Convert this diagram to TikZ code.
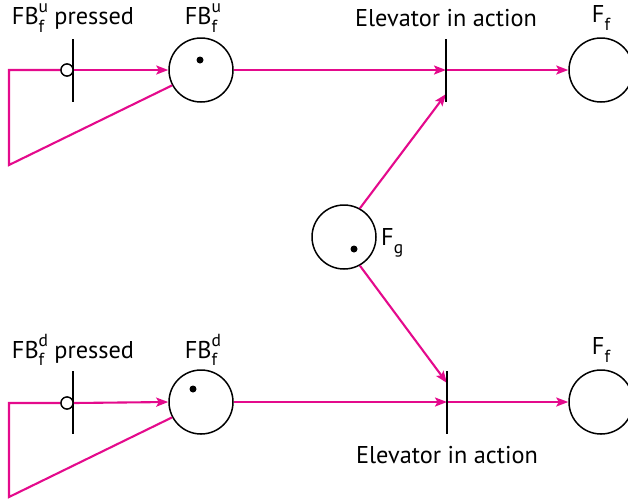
\documentclass[tikz,border=0pt]{standalone}
\usepackage{fontspec}
\setmainfont{PT Sans}
\usetikzlibrary{arrows.meta}
\definecolor{arcpink}{RGB}{228,10,140}
\newcommand\ssb[2]{\rlap{\raisebox{0.48em}{\fontsize{17.5}{17.5}\selectfont #1}}\raisebox{-0.32em}{\fontsize{17.5}{17.5}\selectfont #2}}
\begin{document}
\begin{tikzpicture}[x=1pt,y=-1pt,
  place/.style={circle,draw=black,line width=1.5pt,minimum size=64pt,inner sep=0pt},
  trans/.style={rectangle,fill=black,minimum width=2.7pt,minimum height=63pt,inner sep=0pt},
  inhib/.style={circle,draw=black,fill=white,line width=1.3pt,minimum size=12pt,inner sep=0pt},
  tok/.style={circle,fill=black,minimum size=7pt,inner sep=0pt},
  arc/.style={draw=arcpink,line width=2.1pt},
  arr/.style={arc,-{Stealth[length=12pt,width=9pt,inset=2.5pt]}},
  lbl/.style={font=\fontsize{24.3}{27}\selectfont,inner sep=0pt}]
\useasboundingbox (0,0) rectangle (628,499);
% top row
\node[trans] (t1) at (73,70) {};
\node[place] (pu) at (201,70) {};
\node[tok] (ku) at (200,60) {};
\node[trans] (e1) at (446,70) {};
\node[place] (f1) at (601,70) {};
% middle
\node[place] (fg) at (344,237) {};
\node[tok] (kg) at (354,249) {};
\node[lbl,anchor=west] (lfg) at (381,243) {F\ssb{}{g}};
% bottom row
\node[trans] (t2) at (73,402) {};
\node[place] (pd) at (201,402) {};
\node[tok] (kd) at (193,389) {};
\node[trans] (e2) at (447,402) {};
\node[place] (f2) at (601,402) {};
% labels
\node[lbl] (l1) at (73,18) {FB\ssb{u}{f}\hspace{0.15em} pressed};
\node[lbl] (l2) at (201,18) {FB\ssb{u}{f}};
\node[lbl] (l3) at (446,18) {Elevator in action};
\node[lbl] (l4) at (601,18) {F\ssb{}{f}};
\node[lbl] (l5) at (73,350) {FB\ssb{d}{f}\hspace{0.15em} pressed};
\node[lbl] (l6) at (201,350) {FB\ssb{d}{f}};
\node[lbl] (l7) at (447,455) {Elevator in action};
\node[lbl] (l8) at (601,350) {F\ssb{}{f}};
% coordinates
\coordinate (c1) at (9,70);
\coordinate (c2) at (9,165);
\coordinate (c3) at (9,403);
\coordinate (c4) at (9,497);
\coordinate (e1in) at (446,94);
\coordinate (e2in) at (447,383);
% top arcs
\node[inhib] (i1) at (67,70) {};
\draw[arc] (pu.208) -- (c2) -- (c1) -- (i1.west);
\draw[arr] (i1.east) -- (pu.west);
\draw[arr] (pu.east) -- (e1.center);
\draw[arr] (e1.center) -- (f1.west);
\draw[arr] (fg.61) -- (e1in);
% bottom arcs
\node[inhib] (i2) at (67,403) {};
\draw[arc] (pd.208) -- (c4) -- (c3) -- (i2.west);
\draw[arr] (i2.east) -- (pd.west);
\draw[arr] (pd.east) -- (e2.center);
\draw[arr] (e2.center) -- (f2.west);
\draw[arr] (fg.-61) -- (e2in);
\node[trans] at (e1) {};
\node[trans] at (e2) {};
\node[inhib] at (i1) {};
\node[inhib] at (i2) {};
\end{tikzpicture}
\end{document}
